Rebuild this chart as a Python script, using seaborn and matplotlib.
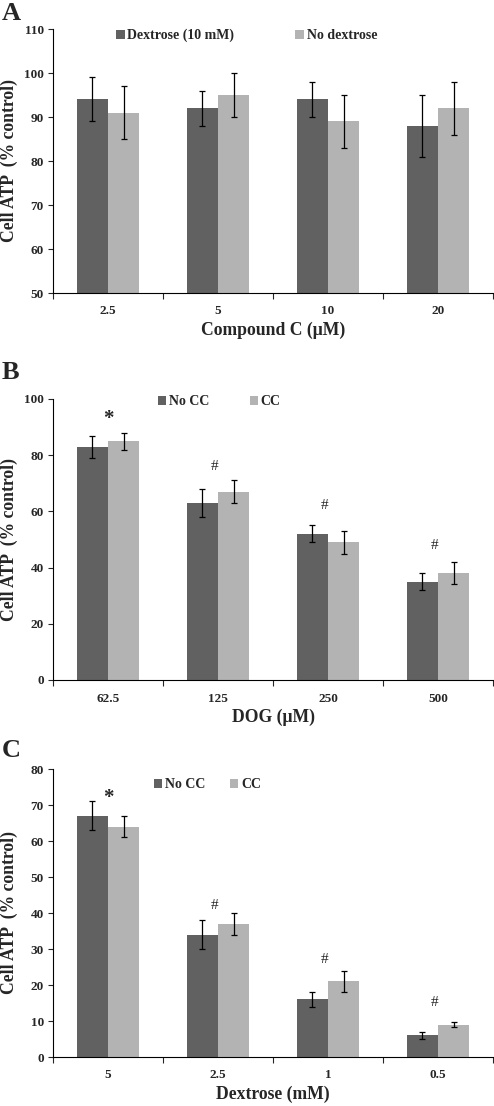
import numpy as np
import pandas as pd
import matplotlib
matplotlib.use("Agg")
import matplotlib.pyplot as plt
import seaborn as sns

# panel A
a_doses = ["2.5", "5", "10", "20"]
a_groups = ["Dextrose (10 mM)", "No dextrose"]
a_dex = [94, 92, 94, 88]
a_dex_err = [5, 4, 4, 7]
a_nodex = [91, 95, 89, 92]
a_nodex_err = [6, 5, 6, 6]

# panel B
b_doses = ["62.5", "125", "250", "500"]
b_groups = ["No CC", "CC"]
b_nocc = [83, 63, 52, 35]
b_nocc_err = [4, 5, 3, 3]
b_cc = [85, 67, 49, 38]
b_cc_err = [3, 4, 4, 4]
b_marks = ["*", "#", "#", "#"]
b_mark_y = [93, 76, 62, 48]

# panel C
c_doses = ["5", "2.5", "1", "0.5"]
c_groups = ["No CC", "CC"]
c_nocc = [67, 34, 16, 6]
c_nocc_err = [4, 4, 2, 1]
c_cc = [64, 37, 21, 9]
c_cc_err = [3, 3, 3, 0.7]
c_marks = ["*", "#", "#", "#"]
c_mark_y = [72, 42, 27, 15]

DARK = "#616161"
LIGHT = "#b3b3b3"

sns.set_theme(style="ticks")
plt.rcParams['font.family'] = ['Liberation Serif', 'DejaVu Serif']
plt.rcParams['font.weight'] = 'bold'

W, H = 494, 1106
fig = plt.figure(figsize=(W / 100, H / 100), dpi=100)


def px_axes(left, top, right, bottom):
    return fig.add_axes([left / W, 1 - bottom / H, (right - left) / W, (bottom - top) / H])


def make_frame(doses, groups, v1, e1, v2, e2):
    return pd.DataFrame({
        "dose": doses + doses,
        "group": [groups[0]] * len(doses) + [groups[1]] * len(doses),
        "value": v1 + v2,
        "err": e1 + e2,
    })


def draw_panel(ax, df, groups, ylim, yticks, xlabel, leg_anchor, colspace):
    sns.barplot(data=df, x="dose", y="value", hue="group", hue_order=groups,
                palette=[DARK, LIGHT], width=0.57, gap=0, errorbar=None,
                edgecolor="none", saturation=1, ax=ax)
    # error bars on bar centres
    bars = [p for p in ax.patches if p.get_height() > 0][:len(df)]
    for p, (_, row) in zip(bars, df.iterrows()):
        ax.errorbar(p.get_x() + p.get_width() / 2, row["value"], yerr=row["err"],
                    fmt="none", ecolor="black", elinewidth=0.9, capsize=2, capthick=0.9)
    ax.set_xlim(-0.5, 3.5)
    ax.set_ylim(*ylim)
    ax.set_yticks(yticks)
    ax.set_xticks(np.arange(-0.5, 4, 1), minor=True)
    ax.tick_params(axis="x", which="major", length=0, labelsize=9.5, pad=9)
    ax.tick_params(axis="x", which="minor", length=4, width=0.8, direction="out")
    ax.tick_params(axis="y", length=3.5, width=0.8, labelsize=9.5, pad=3)
    for lab in ax.get_xticklabels() + ax.get_yticklabels():
        lab.set_fontweight("bold")
    sns.despine(ax=ax)
    for s in ["left", "bottom"]:
        ax.spines[s].set_linewidth(0.8)
        ax.spines[s].set_color("black")
    ax.set_ylabel("Cell ATP  (% control)", fontsize=12.7, fontweight="bold")
    ax.yaxis.set_label_coords(-0.08, 0.5)
    ax.set_xlabel(xlabel, fontsize=12.7, fontweight="bold", labelpad=3)
    ax.legend(loc="center left", bbox_to_anchor=leg_anchor, ncol=2, frameon=False,
              handlelength=0.6, handleheight=0.6, handletextpad=0.2,
              columnspacing=colspace, borderaxespad=0,
              prop={"family": "Liberation Serif", "weight": "bold", "size": 10})


def draw_marks(ax, marks, ys):
    for i, (m, y) in enumerate(zip(marks, ys)):
        if m == "*":
            ax.text(i, y, m, ha="center", va="center", fontsize=15, fontweight="bold")
        else:
            ax.text(i - 0.03, y, m, ha="center", va="center", fontsize=11, fontweight="normal")


axA = px_axes(53, 29, 493, 293)
dfA = make_frame(a_doses, a_groups, a_dex, a_dex_err, a_nodex, a_nodex_err)
draw_panel(axA, dfA, a_groups, (50, 110), range(50, 111, 10),
           "Compound C (\u03bcM)", (0.131, 0.975), 4.4)

axB = px_axes(53, 399, 493, 680)
dfB = make_frame(b_doses, b_groups, b_nocc, b_nocc_err, b_cc, b_cc_err)
draw_panel(axB, dfB, b_groups, (0, 100), range(0, 101, 20),
           "DOG (\u03bcM)", (0.226, 0.99), 2.9)
draw_marks(axB, b_marks, b_mark_y)

axC = px_axes(53, 769, 493, 1057)
dfC = make_frame(c_doses, c_groups, c_nocc, c_nocc_err, c_cc, c_cc_err)
draw_panel(axC, dfC, c_groups, (0, 80), range(0, 81, 10),
           "Dextrose (mM)", (0.216, 0.945), 1.8)
draw_marks(axC, c_marks, c_mark_y)

for letter, ytop in [("A", 2), ("B", 361), ("C", 739)]:
    fig.text(2 / W, 1 - ytop / H, letter, ha="left", va="top", fontsize=19, fontweight="bold")

fig.savefig("out.png", dpi=100)
